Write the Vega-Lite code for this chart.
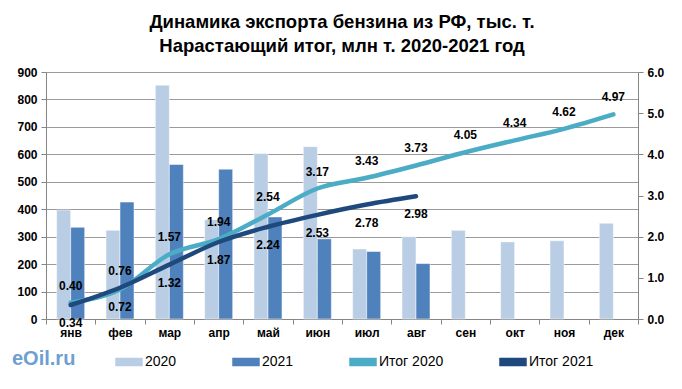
{
  "$schema": "https://vega.github.io/schema/vega-lite/v6.json",
  "width": 592,
  "height": 247,
  "autosize": {"type": "none"},
  "padding": {"left": 46, "top": 72, "right": 44, "bottom": 70},
  "background": "white",
  "config": {
    "view": {"stroke": null},
    "font": "Liberation Sans",
    "axis": {
      "domainColor": "#868686",
      "tickColor": "#868686",
      "gridColor": "#9a9a9a",
      "labelFont": "Liberation Sans",
      "labelFontSize": 12,
      "labelFontWeight": "bold",
      "labelColor": "black",
      "tickSize": 5,
      "title": null
    },
    "legend": {
      "labelFont": "Liberation Sans",
      "labelFontSize": 14,
      "labelColor": "black"
    }
  },
  "title": {
    "text": ["Динамика экспорта бензина из РФ, тыс. т.", "Нарастающий итог, млн  т.  2020-2021 год"],
    "font": "Liberation Sans",
    "fontSize": 18.5,
    "fontWeight": "bold",
    "color": "black",
    "lineHeight": 24,
    "anchor": "middle",
    "offset": 11
  },
  "data": {
    "values": [
      {"month": "янв", "series": "2020", "value": 397},
      {"month": "фев", "series": "2020", "value": 323},
      {"month": "мар", "series": "2020", "value": 852},
      {"month": "апр", "series": "2020", "value": 362},
      {"month": "май", "series": "2020", "value": 603},
      {"month": "июн", "series": "2020", "value": 628},
      {"month": "июл", "series": "2020", "value": 255},
      {"month": "авг", "series": "2020", "value": 300},
      {"month": "сен", "series": "2020", "value": 323},
      {"month": "окт", "series": "2020", "value": 281},
      {"month": "ноя", "series": "2020", "value": 285},
      {"month": "дек", "series": "2020", "value": 349},
      {"month": "янв", "series": "2021", "value": 334},
      {"month": "фев", "series": "2021", "value": 426},
      {"month": "мар", "series": "2021", "value": 563},
      {"month": "апр", "series": "2021", "value": 546},
      {"month": "май", "series": "2021", "value": 372},
      {"month": "июн", "series": "2021", "value": 292},
      {"month": "июл", "series": "2021", "value": 246},
      {"month": "авг", "series": "2021", "value": 202},
      {"month": "янв", "series": "Итог 2020", "value": 0.40},
      {"month": "фев", "series": "Итог 2020", "value": 0.72},
      {"month": "мар", "series": "Итог 2020", "value": 1.57},
      {"month": "апр", "series": "Итог 2020", "value": 1.94},
      {"month": "май", "series": "Итог 2020", "value": 2.54},
      {"month": "июн", "series": "Итог 2020", "value": 3.17},
      {"month": "июл", "series": "Итог 2020", "value": 3.43},
      {"month": "авг", "series": "Итог 2020", "value": 3.73},
      {"month": "сен", "series": "Итог 2020", "value": 4.05},
      {"month": "окт", "series": "Итог 2020", "value": 4.34},
      {"month": "ноя", "series": "Итог 2020", "value": 4.62},
      {"month": "дек", "series": "Итог 2020", "value": 4.97},
      {"month": "янв", "series": "Итог 2021", "value": 0.34},
      {"month": "фев", "series": "Итог 2021", "value": 0.76},
      {"month": "мар", "series": "Итог 2021", "value": 1.32},
      {"month": "апр", "series": "Итог 2021", "value": 1.87},
      {"month": "май", "series": "Итог 2021", "value": 2.24},
      {"month": "июн", "series": "Итог 2021", "value": 2.53},
      {"month": "июл", "series": "Итог 2021", "value": 2.78},
      {"month": "авг", "series": "Итог 2021", "value": 2.98}
    ]
  },
  "encoding": {
    "x": {
      "field": "month",
      "type": "nominal",
      "sort": ["янв", "фев", "мар", "апр", "май", "июн", "июл", "авг", "сен", "окт", "ноя", "дек"],
      "scale": {"paddingInner": 0, "paddingOuter": 0},
      "axis": {"labelAngle": 0, "tickBand": "extent", "labelPadding": 3, "grid": false}
    }
  },
  "layer": [
    {
      "transform": [{"filter": "indexof(datum.series, 'Итог') < 0"}],
      "mark": {"type": "bar", "stroke": "white", "strokeWidth": 0.5},
      "encoding": {
        "xOffset": {"field": "series", "type": "nominal", "sort": ["2020", "2021"], "scale": {"paddingInner": 0, "paddingOuter": 0.76}},
        "y": {
          "field": "value",
          "type": "quantitative",
          "scale": {"domain": [0, 900], "nice": false},
          "axis": {"values": [0, 100, 200, 300, 400, 500, 600, 700, 800, 900], "grid": true, "labelPadding": 4}
        },
        "color": {
          "field": "series",
          "type": "nominal",
          "scale": {
            "domain": ["2020", "2021", "Итог 2020", "Итог 2021"],
            "range": ["#B9CDE5", "#4F81BD", "#4BACC6", "#1F497D"]
          },
          "legend": {
            "orient": "none",
            "direction": "horizontal",
            "legendX": -34,
            "legendY": 276,
            "title": "eOil.ru",
            "titleOrient": "left",
            "titleFontSize": 20,
            "titleFontWeight": "bold",
            "titleColor": "#6e9fd3",
            "titleFont": "Liberation Sans",
            "titlePadding": 39,
            "padding": 0,
            "columnPadding": 53,
            "symbolSize": 676,
            "symbolType": "M-1,-0.27H1V0.27H-1Z",
            "labelOffset": 2,
            "encode": {
              "symbols": {
                "enter": {
                  "shape": {"signal": "indexof(datum.value, 'Итог') === 0 ? 'M-1,-0.17H1V0.17H-1Z' : 'M-1,-0.27H1V0.27H-1Z'"}
                },
                "update": {
                  "shape": {"signal": "indexof(datum.value, 'Итог') === 0 ? 'M-1,-0.17H1V0.17H-1Z' : 'M-1,-0.27H1V0.27H-1Z'"},
                  "fill": {"signal": "scale('color', datum.value)"},
                  "stroke": {"value": "transparent"},
                  "opacity": {"value": 1}
                }
              }
            }
          }
        }
      }
    },
    {
      "transform": [
        {"filter": "indexof(datum.series, 'Итог') === 0"},
        {"joinaggregate": [{"op": "max", "field": "value", "as": "mx"}], "groupby": ["month"]}
      ],
      "encoding": {
        "y": {
          "field": "value",
          "type": "quantitative",
          "scale": {"domain": [0, 6], "nice": false},
          "axis": {"orient": "right", "values": [0, 1, 2, 3, 4, 5, 6], "format": ".1f", "grid": false, "labelPadding": 4}
        }
      },
      "layer": [
        {
          "mark": {"type": "line", "strokeWidth": 4.5, "strokeCap": "round", "strokeJoin": "round", "interpolate": "monotone"},
          "encoding": {
            "color": {"field": "series", "type": "nominal"}
          }
        },
        {
          "transform": [{"filter": "datum.value >= datum.mx"}],
          "mark": {"type": "text", "dy": -17, "font": "Liberation Sans", "fontSize": 12, "fontWeight": "bold", "color": "black"},
          "encoding": {"text": {"field": "value", "type": "quantitative", "format": ".2f"}}
        },
        {
          "transform": [{"filter": "datum.value < datum.mx"}],
          "mark": {"type": "text", "dy": 18, "font": "Liberation Sans", "fontSize": 12, "fontWeight": "bold", "color": "black"},
          "encoding": {"text": {"field": "value", "type": "quantitative", "format": ".2f"}}
        }
      ]
    }
  ],
  "resolve": {"scale": {"y": "independent"}}
}
